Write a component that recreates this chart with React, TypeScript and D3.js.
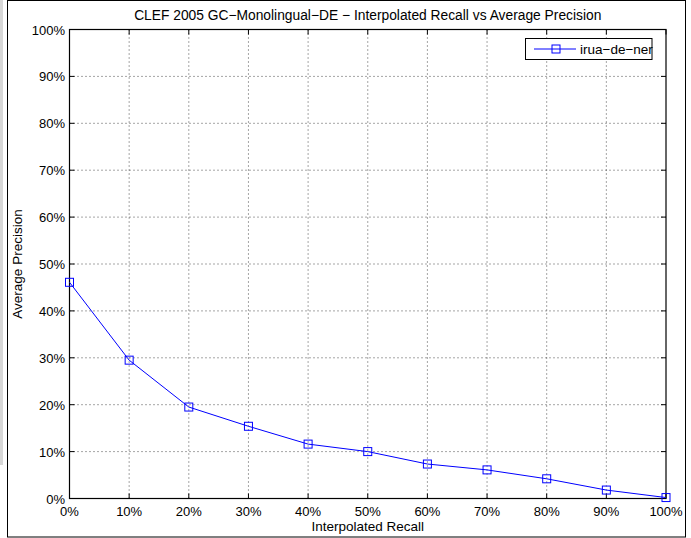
import React from "react";
import * as d3 from "d3";

const recall = [0, 0.1, 0.2, 0.3, 0.4, 0.5, 0.6, 0.7, 0.8, 0.9, 1.0];
const precision = [0.461, 0.295, 0.195, 0.154, 0.116, 0.1, 0.0735, 0.061, 0.042, 0.018, 0.002];
const xTicks = [0, 0.1, 0.2, 0.3, 0.4, 0.5, 0.6, 0.7, 0.8, 0.9, 1.0];
const yTicks = [0, 0.1, 0.2, 0.3, 0.4, 0.5, 0.6, 0.7, 0.8, 0.9, 1.0];
const seriesName = "irua\u2212de\u2212ner";
const title = "CLEF 2005 GC\u2212Monolingual\u2212DE \u2212 Interpolated Recall vs Average Precision";

export default function App() {
  const W = 691, H = 538;
  const L = 69.5, R = 666, T = 29.5, B = 498.5;
  const x = d3.scaleLinear().domain([0, 1]).range([L, R]);
  const y = d3.scaleLinear().domain([0, 1]).range([B, T]);
  const fmt = (v: number) => `${Math.round(v * 100)}%`;
  const line = d3.line<number>().x((_, i) => x(recall[i])).y((d) => y(d));
  const font = "'Liberation Sans', Arial, Helvetica, sans-serif";
  const tl = 5;
  const tickFs = 13;
  return (
    <svg width={W} height={H} style={{ position: "absolute", left: 0, top: 0 }} fontFamily={font}>
      <rect x={0} y={0} width={W} height={H} fill="#fff" />
      <rect x={0} y={0} width={3} height={465} fill="#d8d8d8" />
      <rect x={7.5} y={0.5} width={678} height={536.5} fill="none" stroke="#000" strokeWidth={1} />
      {/* grid */}
      {xTicks.slice(1, -1).map((t) => (
        <line key={"gx" + t} x1={x(t)} x2={x(t)} y1={B} y2={T} stroke="#000" strokeWidth={1} strokeDasharray="1,3" opacity={0.7} />
      ))}
      {yTicks.slice(1, -1).map((t) => (
        <line key={"gy" + t} x1={L} x2={R} y1={y(t)} y2={y(t)} stroke="#000" strokeWidth={1} strokeDasharray="1,3" opacity={0.7} />
      ))}
      {/* ticks */}
      {xTicks.map((t) => (
        <g key={"tx" + t}>
          <line x1={x(t)} x2={x(t)} y1={B} y2={B - tl} stroke="#000" />
          <line x1={x(t)} x2={x(t)} y1={T} y2={T + tl} stroke="#000" />
          <text x={x(t)} y={516} fontSize={tickFs} textAnchor="middle" fill="#000">{fmt(t)}</text>
        </g>
      ))}
      {yTicks.map((t) => (
        <g key={"ty" + t}>
          <line x1={L} x2={L + tl} y1={y(t)} y2={y(t)} stroke="#000" />
          <line x1={R} x2={R - tl} y1={y(t)} y2={y(t)} stroke="#000" />
          <text x={65} y={y(t) + 5} fontSize={tickFs} textAnchor="end" fill="#000">{fmt(t)}</text>
        </g>
      ))}
      <rect x={L} y={T} width={R - L} height={B - T} fill="none" stroke="#000" strokeWidth={1.2} />
      {/* series */}
      <path d={line(precision) || ""} fill="none" stroke="#0000ff" strokeWidth={1} />
      {precision.map((p, i) => (
        <rect key={"m" + i} x={x(recall[i]) - 4} y={y(p) - 4} width={8} height={8} fill="none" stroke="#0000ff" strokeWidth={1} />
      ))}
      {/* legend */}
      <rect x={525.5} y={38.5} width={126.5} height={21} fill="#fff" stroke="#000" strokeWidth={1} />
      <line x1={534} x2={576} y1={49} y2={49} stroke="#0000ff" strokeWidth={1} />
      <rect x={552} y={45} width={8} height={8} fill="none" stroke="#0000ff" strokeWidth={1} />
      <text x={580} y={54} fontSize={13.5} fill="#000">{seriesName}</text>
      {/* labels */}
      <text x={(L + R) / 2} y={20} fontSize={13.8} textAnchor="middle" fill="#000">{title}</text>
      <text x={(L + R) / 2} y={531} fontSize={13.5} textAnchor="middle" fill="#000">Interpolated Recall</text>
      <text transform={`translate(22, ${(T + B) / 2}) rotate(-90)`} fontSize={13.5} textAnchor="middle" fill="#000">Average Precision</text>
    </svg>
  );
}
